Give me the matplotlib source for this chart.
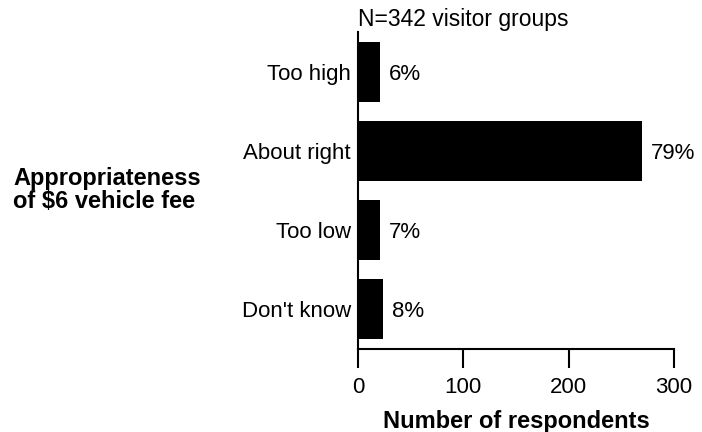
import numpy as np
import matplotlib
matplotlib.use("Agg")
import matplotlib.pyplot as plt

plt.rcParams['font.family'] = ['Liberation Sans', 'DejaVu Sans']

categories = ["Too high", "About right", "Too low", "Don't know"]
counts = [21, 270, 21, 24]
percents = ["6%", "79%", "7%", "8%"]
x_ticks = [0, 100, 200, 300]

fig = plt.figure(figsize=(7.02, 4.32), dpi=100)
ax = fig.add_axes([358/702, 1-349/432, 316/702, 317/432])

y = np.arange(len(categories))
ax.barh(y, counts, height=0.76, color='black')
for yi, c, p in zip(y, counts, percents):
    ax.annotate(p, (c, yi), xytext=(6, 0), textcoords='offset points',
                va='center_baseline', ha='left', fontsize=16)

ax.set_ylim(3.5, -0.5)
ax.set_xlim(0, 300)
ax.set_yticks(y)
ax.set_yticklabels(categories, fontsize=16)
ax.set_xticks(x_ticks)
ax.set_xticklabels([str(t) for t in x_ticks], fontsize=16)
ax.tick_params(axis='y', length=0, pad=5)
ax.tick_params(axis='x', length=14, width=1.5, pad=6, direction='out')

for s in ['top', 'right']:
    ax.spines[s].set_visible(False)
for s in ['left', 'bottom']:
    ax.spines[s].set_linewidth(1.5)

ax.set_xlabel("Number of respondents", fontsize=17, fontweight='bold', labelpad=9)
ax.set_title("N=342 visitor groups", fontsize=16.5, loc='left', pad=4)

fig.text(13/702, 1-190/432, "Appropriateness\nof $6 vehicle fee", fontsize=17,
         fontweight='bold', ha='left', va='center', multialignment='left',
         linespacing=1.0)

fig.savefig("out.png", dpi=100)
